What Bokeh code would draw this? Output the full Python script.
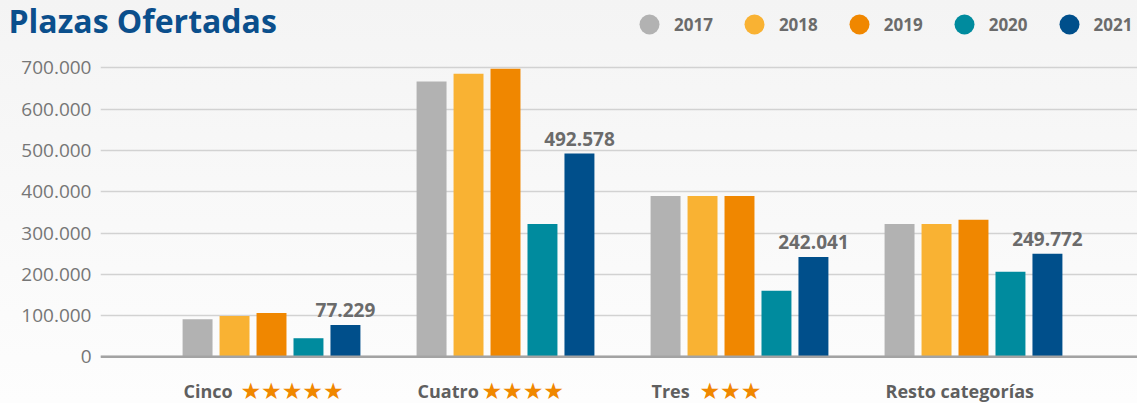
from bokeh.plotting import figure
from bokeh.layouts import column
from bokeh.models import Range1d, FixedTicker, Span, Legend, LegendItem, ColumnDataSource
from bokeh.core.properties import value
from bokeh.embed import file_html
from bokeh.resources import INLINE
import numpy as np

# ---- data ----
categories = ["Cinco", "Cuatro", "Tres", "Resto categorías"]
stars = ["★★★★★", "★★★★", "★★★", ""]
years = ["2017", "2018", "2019", "2020", "2021"]
v2017 = [91000, 667000, 390000, 322000]
v2018 = [99000, 686000, 390000, 322000]
v2019 = [106000, 698000, 390000, 332000]
v2020 = [45000, 322000, 160000, 206000]
v2021 = [77229, 492578, 242041, 249772]
series = [v2017, v2018, v2019, v2020, v2021]
y_ticks = [0, 100000, 200000, 300000, 400000, 500000, 600000, 700000]
y_tick_labels = ["0", "100.000", "200.000", "300.000", "400.000", "500.000", "600.000", "700.000"]

colors = ["#b2b2b2", "#f9b233", "#f08700", "#008b9e", "#004f8b"]
FONT = "Open Sans"
GRAY = "#6b6b6b"
TOTAL_W, TOTAL_H, HEAD_H = 1137, 403, 46

# ---- header: title + legend ----
head = figure(width=TOTAL_W, height=HEAD_H, output_backend="svg", toolbar_location=None,
              x_axis_location=None, y_axis_location=None, title=None,
              x_range=Range1d(0, TOTAL_W), y_range=Range1d(HEAD_H, 0),
              min_border=0)
head.frame_align = False
head.background_fill_color = None
head.border_fill_color = None
head.outline_line_color = None
head.grid.visible = False
head.text(x=[8], y=[20], text=["Plazas Ofertadas"], text_align="left", text_baseline="middle",
          text_font=value(FONT), text_font_style="bold", text_font_size="32px",
          text_color="#0b4f8c")
items = []
for yr, c in zip(years, colors):
    r = head.scatter(x=np.array([np.nan]), y=np.array([np.nan]), marker="circle", size=20,
                     fill_color=c, line_color=None)
    items.append(LegendItem(label=yr, renderers=[r]))
leg = Legend(items=items, orientation="horizontal", location=(624, -3),
             glyph_width=50, glyph_height=50, label_standoff=0, spacing=16,
             padding=0, margin=0, border_line_color=None, background_fill_color=None,
             label_text_font=FONT, label_text_font_style="bold", label_text_font_size="17px",
             label_text_color=GRAY)
head.add_layout(leg)

# ---- main chart ----
p = figure(width=TOTAL_W, height=TOTAL_H - HEAD_H, output_backend="svg", toolbar_location=None,
           x_axis_location=None, title=None,
           x_range=Range1d(-0.7308, 3.7009), y_range=Range1d(-113200, 752100),
           min_border_left=100, min_border_right=0, min_border_top=0, min_border_bottom=0)
p.frame_align = False
p.background_fill_color = None
p.border_fill_color = None
p.outline_line_color = None

ax = p.yaxis[0]
ax.ticker = FixedTicker(ticks=y_ticks)
ax.major_label_overrides = {t: l for t, l in zip(y_ticks, y_tick_labels)}
ax.axis_line_color = None
ax.major_tick_line_color = None
ax.minor_tick_line_color = None
ax.major_tick_out = 0
ax.major_label_standoff = 9
ax.major_label_text_font = FONT
ax.major_label_text_font_size = "19px"
ax.major_label_text_color = "#767676"
p.xgrid.visible = False
p.ygrid.ticker = FixedTicker(ticks=y_ticks)
p.ygrid.grid_line_color = "#d2d2d2"
p.ygrid.grid_line_width = 1.5

step, bw = 0.158, 0.128
x = np.arange(len(categories))
for k, (vals, c) in enumerate(zip(series, colors)):
    p.vbar(x=x + (k - 2) * step, top=vals, width=bw, bottom=0, fill_color=c, line_color=None)

p.add_layout(Span(location=0, dimension="width", line_color="#a3a3a3", line_width=2.5))

src = ColumnDataSource(dict(x=x + 2 * step, y=v2021,
                            t=[f"{v:,}".replace(",", ".") for v in v2021]))
p.text(x="x", y="y", text="t", source=src, text_align="center", text_baseline="middle",
       y_offset=-15, text_font=value(FONT), text_font_style="bold", text_font_size="19px",
       text_color=GRAY)

lab_y = -84000
p.text(x=x - 0.376, y=[lab_y] * 4, text=categories, text_align="left", text_baseline="middle",
       text_font=value(FONT), text_font_style="bold", text_font_size="18px", text_color="#5f5f5f")
star_dx = [-31, -24, -40, 0]
p.text(x=x, y=[lab_y] * 4, text=stars, x_offset=star_dx, text_align="left", text_baseline="middle",
       text_font=value("DejaVu Sans"), text_font_size="23px", text_color="#f08700")

layout = column(head, p, spacing=0)
html = file_html(layout, INLINE)
html = html.replace("</head>", "<style>html{background:linear-gradient(#f4f4f4,#fdfdfd);min-height:100%;}</style></head>", 1)
open("out.html", "w").write(html)
